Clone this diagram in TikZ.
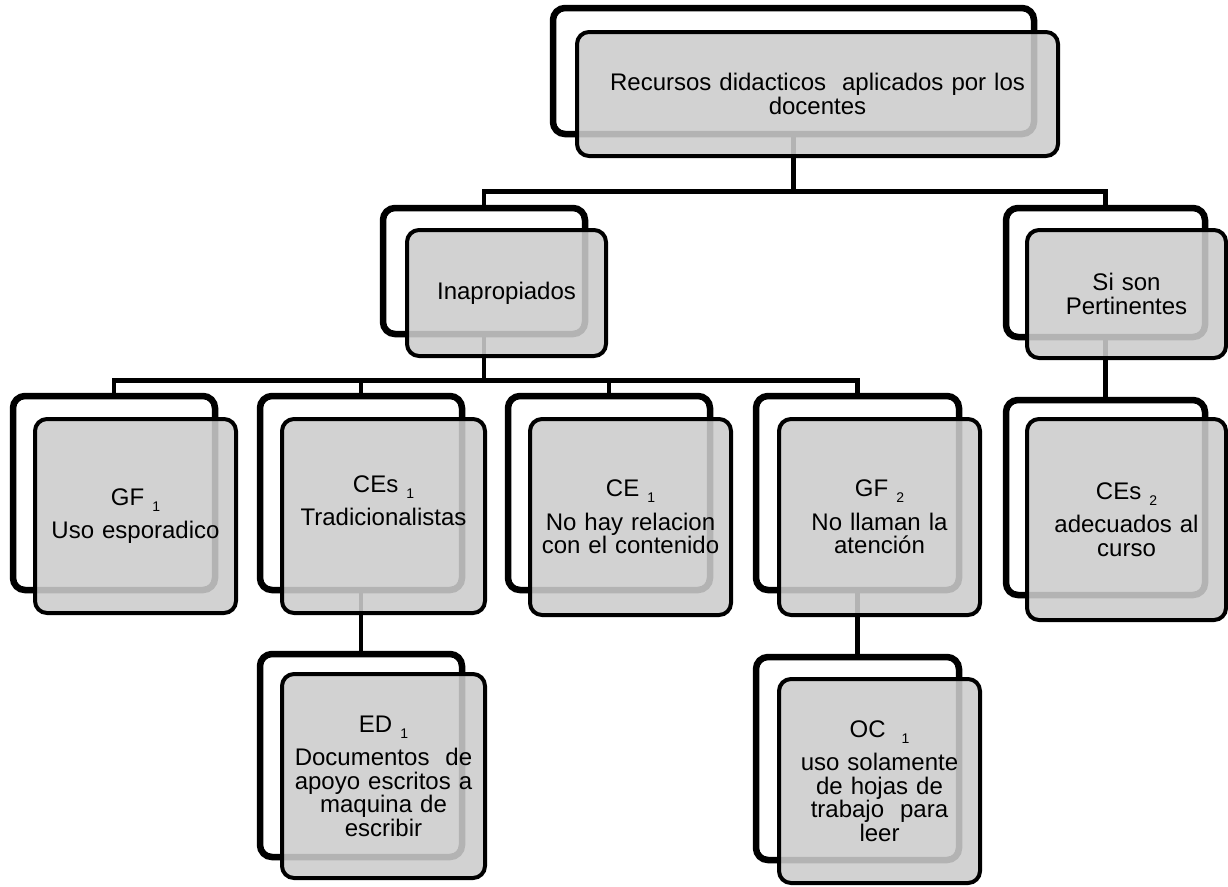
\documentclass[tikz,border=0pt]{standalone}
\usepackage{fontspec}
\setmainfont{Liberation Sans}
\usetikzlibrary{shadows}
\newcommand\idx[1]{{\fontsize{14}{14}\selectfont\raisebox{-6pt}{#1}}}
\tikzset{
  backbox/.style={draw=black, line width=6.5pt, fill=white, rounded corners=12pt, inner sep=0pt,
    drop shadow={shadow xshift=-2pt, shadow yshift=-3pt, opacity=0.3}},
  frontbox/.style={draw=black, line width=4pt, fill=black!20, fill opacity=0.88, text opacity=1,
    rounded corners=12pt, inner sep=0pt, align=center,
    font=\fontsize{24}{23.5}\selectfont},
  conn/.style={draw=black, line width=4.5pt}
}
\newcommand\backel[5]{\node[backbox, minimum width={#4-#2-6}, minimum height={#5-#3-6}] (#1) at ({(#2+#4)/2},{(#3+#5)/2}) {};}
\newcommand\frontel[6]{\node[frontbox, minimum width={#4-#2-4}, minimum height={#5-#3-4}, text width={#4-#2-20}] (#1) at ({(#2+#4)/2},{(#3+#5)/2}) {#6};}
\begin{document}
\begin{tikzpicture}[x=1pt,y=-1pt]
\useasboundingbox (0,0) rectangle (1228,886);
% back boxes
\backel{topB}{550}{5}{1037}{137}
\backel{inaB}{380}{205}{588}{337}
\backel{siB}{1003}{205}{1208}{340}
\backel{gfaB}{10}{393}{218}{593}
\backel{cesaB}{257}{393}{465}{593}
\backel{ceaB}{505}{393}{713}{593}
\backel{gfbB}{753}{393}{962}{593}
\backel{cesbB}{1003}{397}{1208}{598}
\backel{edB}{257}{651}{465}{860}
\backel{ocB}{753}{654}{962}{863}
% connectors
\draw[conn] (topB.south) -- ++(0,54) coordinate (j1);
\draw[conn] (inaB.north) |- (j1) -| (siB.north);
\draw[conn] (inaB.south) -- ++(0,43) coordinate (j2);
\draw[conn] (gfaB.north) |- (j2) -| (gfbB.north);
\draw[conn] (cesaB.north) -- (cesaB.north |- j2);
\draw[conn] (ceaB.north) -- (ceaB.north |- j2);
\draw[conn] (siB.south) -- (cesbB.north);
\draw[conn] (cesaB.south) -- (edB.north);
\draw[conn] (gfbB.south) -- (ocB.north);
% front boxes
\frontel{topF}{575}{30}{1060}{158}{Recursos didacticos\ \ aplicados por los\\docentes}
\frontel{inaF}{405}{228}{608}{358}{Inapropiados}
\frontel{siF}{1025}{228}{1228}{360}{Si son\\Pertinentes}
\frontel{gfaF}{33}{417}{238}{615}{GF \idx{1}\\[10pt]Uso esporadico}
\frontel{cesaF}{280}{417}{487}{615}{CEs \idx{1}\\[10pt]Tradicionalistas\\\strut}
\frontel{ceaF}{528}{417}{733}{617}{CE \idx{1}\\[10pt]No hay relacion\\con el contenido}
\frontel{gfbF}{777}{417}{982}{617}{GF \idx{2}\\[10pt]No llaman la\\atención}
\frontel{cesbF}{1025}{417}{1228}{622}{CEs \idx{2}\\[10pt]adecuados al\\curso}
\frontel{edF}{280}{672}{487}{880}{ED \idx{1}\\[10pt]Documentos\ \ de\\apoyo escritos a\\maquina de\\escribir}
\frontel{ocF}{777}{677}{982}{885}{OC\ \ \idx{1}\\[10pt]uso solamente\\de hojas de\\trabajo\ \ para\\leer}
\end{tikzpicture}
\end{document}
